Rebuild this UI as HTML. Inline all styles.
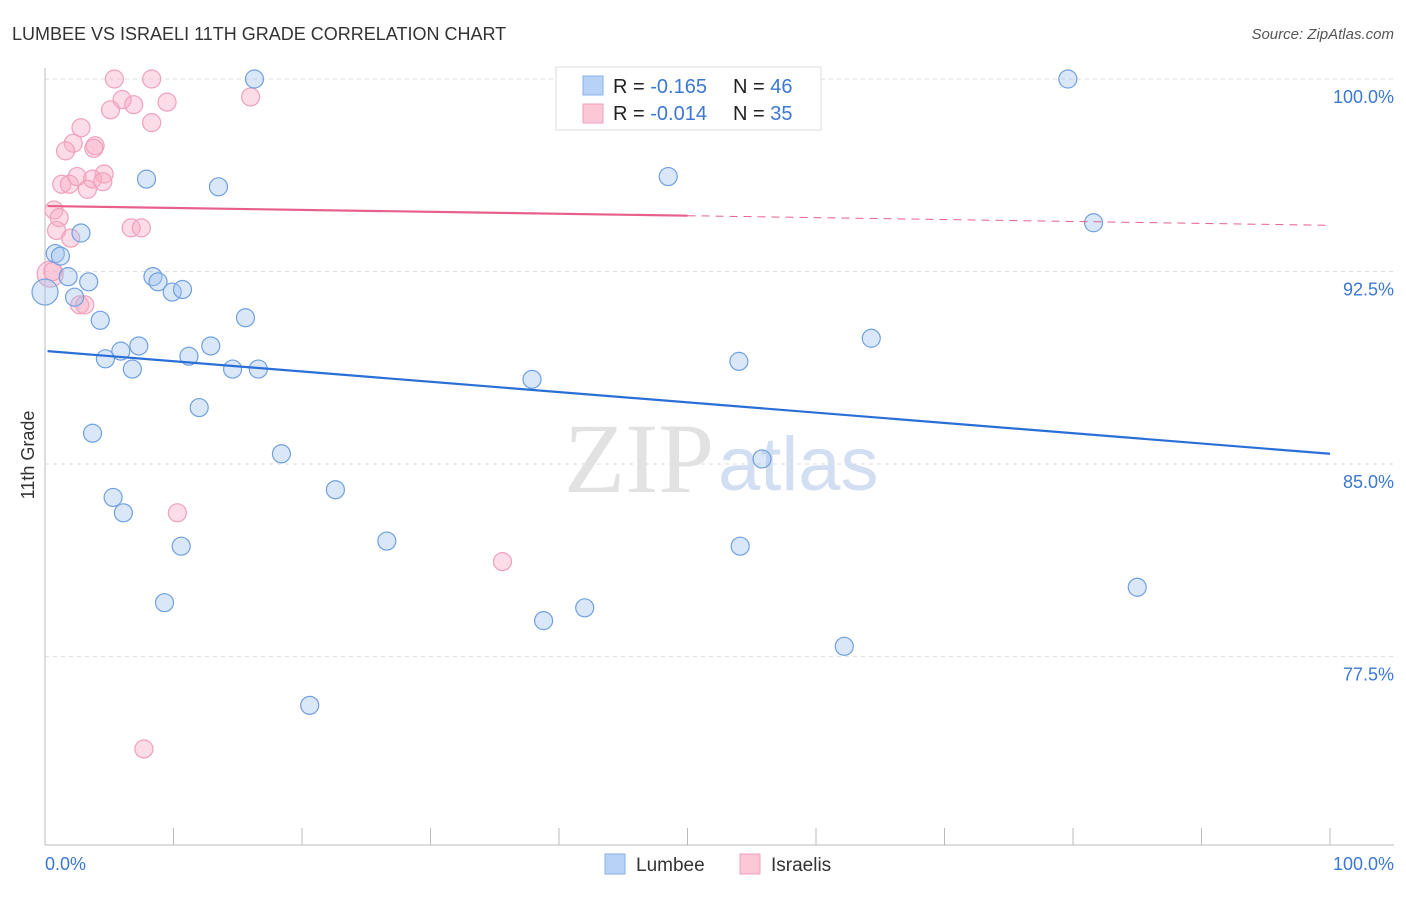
<!DOCTYPE html>
<html><head><meta charset="utf-8">
<style>
body{margin:0;background:#fff;font-family:"Liberation Sans",sans-serif;}
</style></head>
<body>
<svg id="chart" width="1406" height="892" xmlns="http://www.w3.org/2000/svg" style="font-family:'Liberation Sans',sans-serif">
<text x="12" y="40" font-size="18" fill="#333">LUMBEE VS ISRAELI 11TH GRADE CORRELATION CHART</text>
<text x="1394" y="39" font-size="15" fill="#555" font-style="italic" text-anchor="end">Source: ZipAtlas.com</text>
<text x="34" y="455" font-size="18" fill="#333" transform="rotate(-90 34 455)" text-anchor="middle">11th Grade</text>
<g id="grid"></g>
<text x="714" y="492" font-size="100" fill="#e2e2e2" text-anchor="end" style="font-family:'Liberation Serif',serif">ZIP</text>
<text x="718" y="490" font-size="76" fill="#d2def2">atlas</text>
<g id="pts"></g>
<g id="lines"></g>
<g>
<rect x="556" y="67" width="265" height="63" fill="#fff" stroke="#ddd"/>
<rect x="583" y="76" width="20" height="19" fill="#b8d2f5" stroke="#8ab0e8"/>
<rect x="583" y="104" width="20" height="19" fill="#fcc8d8" stroke="#f0a0b8"/>
<text x="613" y="93" font-size="20" fill="#222">R = <tspan fill="#3a78d4">-0.165</tspan><tspan x="733">N = </tspan><tspan fill="#3a78d4">46</tspan></text>
<text x="613" y="120" font-size="20" fill="#222">R = <tspan fill="#3a78d4">-0.014</tspan><tspan x="733">N = </tspan><tspan fill="#3a78d4">35</tspan></text>
</g>
<g>
<rect x="605" y="854" width="20" height="20" fill="#b8d2f5" stroke="#8ab0e8"/>
<text x="636" y="871" font-size="19" fill="#333">Lumbee</text>
<rect x="740" y="854" width="20" height="20" fill="#fcc8d8" stroke="#f0a0b8"/>
<text x="771" y="871" font-size="19" fill="#333">Israelis</text>
</g>
<text x="45" y="870" font-size="18" fill="#3a78d4">0.0%</text>
<text x="1394" y="870" font-size="18" fill="#3a78d4" text-anchor="end">100.0%</text>
</svg>
<script>
const yTicks=[100,92.5,85,77.5];
const yTickLabels=["100.0%","92.5%","85.0%","77.5%"];
const xTicks=[0,10,20,30,40,50,60,70,80,90,100];
const lumbeeX=[16.3,79.6,7.9,13.5,48.5,81.6,2.8,0.8,1.2,1.8,3.4,2.3,0,8.4,8.8,9.9,10.7,4.3,15.6,4.7,5.9,7.3,6.8,11.2,12.9,14.6,16.6,37.9,54.0,64.3,12.0,3.7,18.4,55.8,5.3,6.1,22.6,10.6,26.6,54.1,9.3,85.0,38.8,42.0,62.2,20.6];
const lumbeeY=[100,100,96.1,95.8,96.2,94.4,94.0,93.2,93.1,92.3,92.1,91.5,91.7,92.3,92.1,91.7,91.8,90.6,90.7,89.1,89.4,89.6,88.7,89.2,89.6,88.7,88.7,88.3,89.0,89.9,87.2,86.2,85.4,85.2,83.7,83.1,84.0,81.8,82.0,81.8,79.6,80.2,78.9,79.4,77.9,75.6];
const israeliX=[5.4,8.3,43.2,45.5,16.0,6.0,6.9,5.1,9.5,8.3,2.8,2.2,1.6,3.9,3.8,1.3,1.9,2.5,4.6,3.7,4.5,3.3,0.7,1.1,0.9,2.0,6.7,7.5,0.4,0.6,2.7,3.1,10.3,35.6,7.7];
const israeliY=[100,100,100,100,99.3,99.2,99.0,98.8,99.1,98.3,98.1,97.5,97.2,97.4,97.3,95.9,95.9,96.2,96.3,96.1,96.0,95.7,94.9,94.6,94.1,93.8,94.2,94.2,92.4,92.5,91.2,91.2,83.1,81.2,73.9];
const lumbeeTrend=[89.4,85.4];
const israeliTrend=[95.05,94.3];
const NS="http://www.w3.org/2000/svg";
const xs=v=>45+v*12.85;
const ys=v=>79+(100-v)*25.67;
function mk(t,a,p){const e=document.createElementNS(NS,t);for(const k in a)e.setAttribute(k,a[k]);p.appendChild(e);return e;}
const grid=document.getElementById('grid');
yTicks.forEach((t,i)=>{
 const l=mk('line',{x1:45,x2:1394,y1:ys(t),y2:ys(t),stroke:'#ddd','stroke-dasharray':'4 4'},grid);
 
 
 const tx=mk('text',{x:1394,y:ys(t)+24,'font-size':18,fill:'#3a78d4','text-anchor':'end'},grid);
 tx.textContent=yTickLabels[i];
 
 
});
const ax=mk('line',{x1:45,x2:45,y1:68,y2:845,stroke:'#bbb'},grid);


const bx=mk('line',{x1:45,x2:1394,y1:845,y2:845,stroke:'#bbb'},grid);


xTicks.forEach(t=>{
 const l=mk('line',{x1:xs(t),x2:xs(t),y1:828,y2:845,stroke:'#bbb'},grid);
 
 
});
const pts=document.getElementById('pts');
israeliX.forEach((x,i)=>{
 const c=mk('circle',{cx:xs(x),cy:ys(israeliY[i]),r:(x<0.5?13:9),fill:'rgba(248,170,195,0.4)',stroke:'#f0a0b8','stroke-width':1.2},pts);
 
 
});
lumbeeX.forEach((x,i)=>{
 const c=mk('circle',{cx:xs(x),cy:ys(lumbeeY[i]),r:(x<0.5?13:9),fill:'rgba(160,195,240,0.4)',stroke:'#6fa0e0','stroke-width':1.2},pts);
 
 
});
const lines=document.getElementById('lines');
const lb=mk('line',{x1:xs(0.2),y1:ys(lumbeeTrend[0]),x2:xs(100),y2:ys(lumbeeTrend[1]),stroke:'#2a6fd6','stroke-width':2.2},lines);


const pm=israeliTrend[0]+(israeliTrend[1]-israeliTrend[0])*0.5;
const ls=mk('line',{x1:xs(0.2),y1:ys(israeliTrend[0]),x2:xs(50),y2:ys(pm),stroke:'#e8608a','stroke-width':2.2},lines);


const ld=mk('line',{x1:xs(50),y1:ys(pm),x2:xs(100),y2:ys(israeliTrend[1]),stroke:'#e8608a','stroke-width':1,'stroke-dasharray':'8 6'},lines);


</script>
</body></html>
